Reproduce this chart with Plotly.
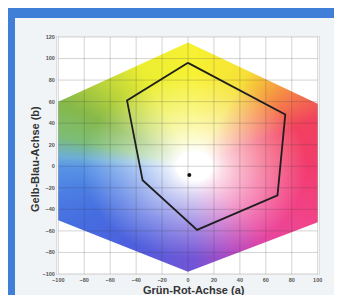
import numpy as np
import plotly.graph_objects as go

# --- data ---
X_TICKS = [-100, -80, -60, -40, -20, 0, 20, 40, 60, 80, 100]
Y_TICKS = [-100, -80, -60, -40, -20, 0, 20, 40, 60, 80, 100, 120]

# colour gamut hexagon (a, b)
HEX_A = [0, 100, 100, 0, -100, -100]
HEX_B = [115, 58, -52, -98, -50, 60]

# measured gamut polygon (a, b)
POLY_A = [0, 75, 69, 7, -35, -47, 0]
POLY_B = [96, 48, -27, -59, -13, 61, 96]

# white point
CENTER_A = [1]
CENTER_B = [-8]

X_TITLE = "Grün-Rot-Achse (a)"
Y_TITLE = "Gelb-Blau-Achse (b)"

X_RANGE = [-101, 101]
Y_RANGE = [-100, 120]

# --- hue anchors for the colour field (angle in degrees, rgb) ---
HUE_ANG = [-180, -165, -150, -120, -90, -70, -50, -30, 0, 25, 45, 65, 90, 115, 135, 150, 165, 175, 180]
HUE_RGB = [
    (90, 150, 230), (75, 125, 228), (70, 110, 225), (80, 95, 222), (115, 85, 215),
    (180, 75, 195), (232, 70, 160), (242, 68, 138), (242, 60, 110), (242, 65, 95),
    (246, 140, 70), (246, 225, 55), (248, 242, 50), (236, 238, 50), (182, 210, 60),
    (135, 185, 75), (125, 190, 120), (110, 175, 215), (90, 150, 230),
]

STEP = 0.5
a = np.arange(-100, 100 + STEP / 2, STEP)
b = np.arange(-100, 120 + STEP / 2, STEP)
A, B = np.meshgrid(a, b)

ang = np.degrees(np.arctan2(B - 0, A - 5))
rad = np.hypot(A - 5, B)
s = np.clip((rad - 14) / 72.0, 0, 1) ** 0.8
img = np.zeros(A.shape + (3,))
for c in range(3):
    hue = np.interp(ang, HUE_ANG, [h[c] for h in HUE_RGB])
    img[..., c] = 255 * (1 - s) + hue * s
img = img.astype(np.uint8)

fig = go.Figure()
fig.add_trace(go.Image(z=img, x0=-100, dx=STEP, y0=-100, dy=STEP, zsmooth="fast", hoverinfo="skip"))

# white mask outside the gamut hexagon (rectangle with hexagon hole)
x0r, x1r = X_RANGE[0] - 1, X_RANGE[1] + 1
y0r, y1r = Y_RANGE[0] - 1, Y_RANGE[1] + 1
hexa_rev = list(reversed(HEX_A))
hexb_rev = list(reversed(HEX_B))
mx = [x0r, x1r, x1r, x0r, x0r] + hexa_rev + [hexa_rev[0], x0r]
my = [y1r, y1r, y0r, y0r, y1r] + hexb_rev + [hexb_rev[0], y1r]
fig.add_trace(go.Scatter(x=mx, y=my, mode="lines", fill="toself", fillcolor="white",
                         line=dict(width=0, color="white"), hoverinfo="skip", showlegend=False))

# grid lines above the colour field
gx, gy = [], []
for t in X_TICKS:
    gx += [t, t, None]
    gy += [Y_RANGE[0], Y_RANGE[1], None]
for t in Y_TICKS:
    gx += [-100, 100, None]
    gy += [t, t, None]
fig.add_trace(go.Scatter(x=gx, y=gy, mode="lines",
                         line=dict(color="rgba(60,60,60,0.28)", width=0.8),
                         hoverinfo="skip", showlegend=False))

fig.add_trace(go.Scatter(x=POLY_A, y=POLY_B, mode="lines",
                         line=dict(color="#1e1e1e", width=1.8), showlegend=False))
fig.add_trace(go.Scatter(x=CENTER_A, y=CENTER_B, mode="markers",
                         marker=dict(color="#111", size=4), showlegend=False))

L, R, T, Bm = 49, 31, 29, 29
W, H = 342, 295
pw, ph = W - L - R, H - T - Bm


def px2x(p):
    return (p - L) / pw


def py2y(p):
    return (H - Bm - p) / ph


tickfont = dict(family="Liberation Sans", size=5.5, color="#555", weight="bold")
titlefont = dict(family="Liberation Sans", size=11, color="#333", weight="bold")
fig.update_layout(
    width=W, height=H,
    margin=dict(l=L, r=R, t=T, b=Bm),
    paper_bgcolor="#3f7fd8",
    plot_bgcolor="white",
    showlegend=False,
    xaxis=dict(range=X_RANGE, tickvals=X_TICKS, showgrid=False, zeroline=False,
               ticks="", tickfont=tickfont, showline=True, linecolor="#ddd", mirror=True),
    yaxis=dict(range=Y_RANGE, tickvals=Y_TICKS, showgrid=False, zeroline=False,
               ticks="", tickfont=tickfont, showline=True, linecolor="#ddd", mirror=True,
               autorange=False, scaleanchor=False),
    shapes=[dict(type="rect", xref="paper", yref="paper", layer="below",
                 x0=px2x(7), x1=px2x(336), y0=py2y(10), y1=py2y(300),
                 fillcolor="#f1f4f7", line=dict(width=0))],
    annotations=[
        dict(text=Y_TITLE, xref="paper", yref="paper", x=px2x(27), y=py2y(151),
             xanchor="center", yanchor="middle",
             textangle=-90, showarrow=False, font=titlefont),
        dict(text=X_TITLE, xref="paper", yref="paper", x=px2x(186), y=py2y(290),
             xanchor="center", yanchor="bottom",
             showarrow=False, font=titlefont),
    ],
)
fig.write_html("out.html")
